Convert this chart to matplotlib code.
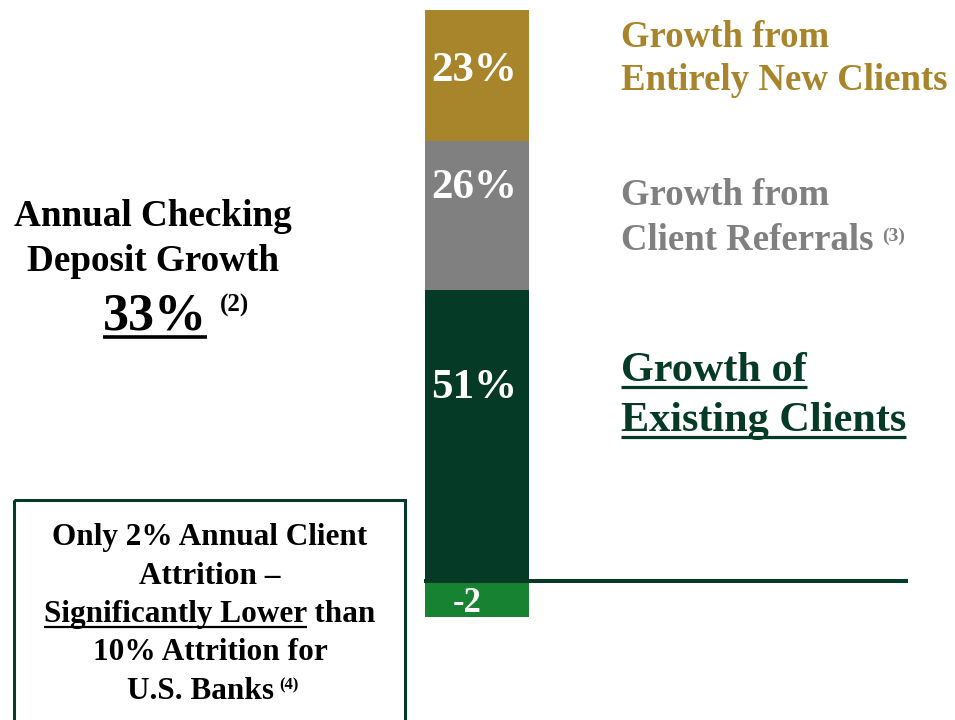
import matplotlib
matplotlib.use("Agg")
import matplotlib.pyplot as plt
from matplotlib.patches import Rectangle

# segment heights as drawn (bottom to top), labels as printed
segment_names = ["Attrition", "Existing Clients", "Client Referrals", "Entirely New Clients"]
segment_values = [-6.3, 51, 26, 23]
segment_labels = ["-2", "51%", "26%", "23%"]
segment_colors = ["#178232", "#053a26", "#808080", "#a8852a"]
label_ypos = [-4.0, 33.8, 68.8, 89.4]

headline_value = "33%"

GOLD = "#a8852a"
GRAY = "#808080"
DKGREEN = "#053a26"
FONT = "Liberation Serif"

W, H = 955, 720
fig = plt.figure(figsize=(W / 100, H / 100), dpi=100)

# bar axes in data units
ax = fig.add_axes([0, 0, 1, 1])
ax.set_xlim(0, W)
ax.set_ylim(-24.34, 101.75)
ax.axis("off")

bar_x, bar_w = 477, 104
pos_bottom = 0
for val, lab, col, ly in zip(segment_values, segment_labels, segment_colors, label_ypos):
    if val < 0:
        ax.bar(bar_x, val, width=bar_w, bottom=0, color=col, zorder=2)
        ax.text(bar_x - 10, ly, lab, color="white", fontsize=25, fontweight="bold",
                family=FONT, ha="center", va="center", zorder=4)
    else:
        ax.bar(bar_x, val, width=bar_w, bottom=pos_bottom, color=col, zorder=2)
        ax.text(bar_x - 3, ly, lab, color="white", fontsize=31, fontweight="bold",
                family=FONT, ha="center", va="center", zorder=4)
        pos_bottom += val
ax.plot([424, 908], [0, 0], color=DKGREEN, lw=2.9, zorder=3, solid_capstyle="butt")

# overlay in reference pixel coordinates
ov = fig.add_axes([0, 0, 1, 1])
ov.set_xlim(0, W)
ov.set_ylim(H, 0)
ov.axis("off")
ov.patch.set_alpha(0)

fig.canvas.draw()
renderer = fig.canvas.get_renderer()


def txt(x, y, s, size, color="black", ha="left"):
    return ov.text(x, y, s, fontsize=size, fontweight="bold", family=FONT,
                   color=color, ha=ha, va="baseline")


def extent(t):
    bb = t.get_window_extent(renderer)
    return bb.x0, bb.x1


def underline(x0, x1, y, color, lw):
    ov.plot([x0, x1], [y, y], color=color, lw=lw, solid_capstyle="butt")


def sup(t, s, size, color, dy=-9, gap=8):
    fig.canvas.draw()
    x1 = extent(t)[1]
    y = t.get_position()[1]
    ov.text(x1 + gap, y + dy, s, fontsize=size, fontweight="bold", family=FONT,
            color=color, ha="left", va="baseline")


# right-hand labels
txt(621, 47, "Growth from", 26.5, GOLD)
txt(621, 90, "Entirely New Clients", 26.5, GOLD)
txt(621, 205, "Growth from", 26.5, GRAY)
t = txt(621, 250, "Client Referrals", 26.5, GRAY)
sup(t, "(3)", 14, GRAY, dy=-9, gap=9)

for y, s in [(381, "Growth of"), (431, "Existing Clients")]:
    t = txt(621, y, s, 30.4, DKGREEN)
    fig.canvas.draw()
    x0, x1 = extent(t)
    underline(x0, x1, y + 6, DKGREEN, 2.3)

# left headline
txt(153, 226, "Annual Checking", 26.7, ha="center")
txt(153, 271, "Deposit Growth", 26.7, ha="center")
t = txt(103, 329, headline_value, 37.5)
fig.canvas.draw()
x0, x1 = extent(t)
underline(x0, x1, 337, "black", 2.6)
sup(t, "(2)", 18, "black", dy=-17, gap=13)

# attrition box
ov.add_patch(Rectangle((14, 500), 391, 225, fill=False, edgecolor=DKGREEN, lw=2.2))
cx = 210
bs = 22.5
txt(cx, 545, "Only 2% Annual Client", bs, ha="center")
txt(cx, 584, "Attrition \u2013", bs, ha="center")
t = txt(cx, 622, "Significantly Lower than", bs, ha="center")
fig.canvas.draw()
x0, x1 = extent(t)
tmp = txt(0, -100, "Significantly Lower", bs)
fig.canvas.draw()
w0, w1 = extent(tmp)
tmp.remove()
underline(x0, x0 + (w1 - w0), 627, "black", 1.6)
txt(cx, 660, "10% Attrition for", bs, ha="center")
t = txt(cx - 10, 699, "U.S. Banks", bs, ha="center")
sup(t, "(4)", 12, "black", dy=-10, gap=6)

fig.savefig("out.png", dpi=100)
